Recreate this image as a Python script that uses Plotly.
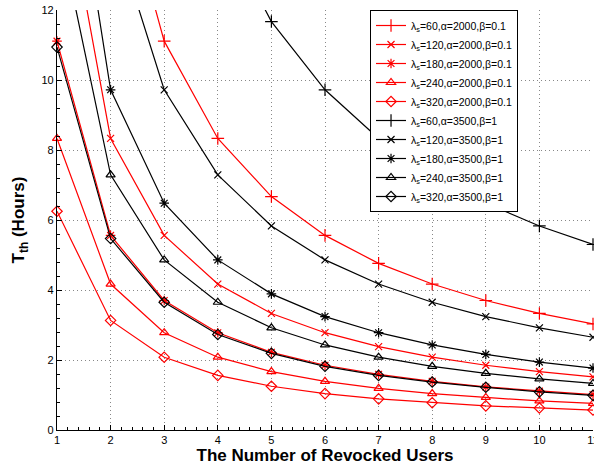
import plotly.graph_objects as go

x_users = [1, 2, 3, 4, 5, 6, 7, 8, 9, 10, 11]

red_60 = [33.33, 16.67, 11.11, 8.33, 6.67, 5.56, 4.76, 4.17, 3.70, 3.33, 3.03]
red_120 = [16.67, 8.33, 5.56, 4.17, 3.33, 2.78, 2.38, 2.08, 1.85, 1.67, 1.52]
red_180 = [11.11, 5.56, 3.70, 2.78, 2.22, 1.85, 1.59, 1.39, 1.23, 1.11, 1.01]
red_240 = [8.33, 4.17, 2.78, 2.08, 1.67, 1.39, 1.19, 1.04, 0.93, 0.83, 0.76]
red_320 = [6.25, 3.13, 2.08, 1.56, 1.25, 1.04, 0.89, 0.78, 0.69, 0.63, 0.57]
black_60 = [58.33, 29.17, 19.44, 14.58, 11.67, 9.72, 8.33, 7.29, 6.48, 5.83, 5.30]
black_120 = [29.17, 14.58, 9.72, 7.29, 5.83, 4.86, 4.17, 3.65, 3.24, 2.92, 2.65]
black_180 = [19.44, 9.72, 6.48, 4.86, 3.89, 3.24, 2.78, 2.43, 2.16, 1.94, 1.77]
black_240 = [14.58, 7.29, 4.86, 3.65, 2.92, 2.43, 2.08, 1.82, 1.62, 1.46, 1.33]
black_320 = [10.94, 5.47, 3.65, 2.73, 2.19, 1.82, 1.56, 1.37, 1.22, 1.09, 0.99]

series_names = [
    "λ<sub>s</sub>=60,α=2000,β=0.1",
    "λ<sub>s</sub>=120,α=2000,β=0.1",
    "λ<sub>s</sub>=180,α=2000,β=0.1",
    "λ<sub>s</sub>=240,α=2000,β=0.1",
    "λ<sub>s</sub>=320,α=2000,β=0.1",
    "λ<sub>s</sub>=60,α=3500,β=1",
    "λ<sub>s</sub>=120,α=3500,β=1",
    "λ<sub>s</sub>=180,α=3500,β=1",
    "λ<sub>s</sub>=240,α=3500,β=1",
    "λ<sub>s</sub>=320,α=3500,β=1",
]
series_values = [red_60, red_120, red_180, red_240, red_320,
                 black_60, black_120, black_180, black_240, black_320]
colors = ["#ff0000"] * 5 + ["#000000"] * 5
symbols = ["cross-thin", "x-thin", "asterisk", "triangle-up-open", "diamond-open"] * 2
sizes = [9, 7, 8, 8, 8] * 2

fig = go.Figure()
for name, vals, col, sym, sz in zip(series_names, series_values, colors, symbols, sizes):
    fig.add_trace(go.Scatter(
        x=x_users, y=vals, name=name, mode="lines+markers",
        line=dict(color=col, width=1.2),
        marker=dict(symbol=sym, size=sz, color=col, line=dict(color=col, width=1.2)),
        cliponaxis=False,
    ))

axis_common = dict(
    showline=True, linecolor="black", linewidth=1.2, mirror=False,
    ticks="inside", ticklen=5, tickcolor="black",
    showgrid=True, gridcolor="#888888", griddash="1px,3px", gridwidth=1,
    zeroline=False, ticklabeloverflow="allow", automargin=False,
    tickfont=dict(family="Liberation Sans, Arial", size=11, color="black"),
)

fig.update_layout(
    width=594, height=468,
    margin=dict(l=57, r=1, t=10, b=38),
    paper_bgcolor="white", plot_bgcolor="white",
    showlegend=True,
    legend=dict(
        x=0.584, y=1.0, xanchor="left", yanchor="top",
        bgcolor="white", bordercolor="black", borderwidth=1,
        font=dict(family="Liberation Sans, Arial", size=10.5, color="black"),
        tracegroupgap=0, itemwidth=30,
    ),
    xaxis=dict(
        range=[1, 11], dtick=1, tick0=1,
        minor=dict(ticks="inside", ticklen=3, dtick=0.2, tickcolor="black", showgrid=False),
        title=dict(text="<b>The Number of Revocked Users</b>",
                   font=dict(family="Liberation Sans, Arial", size=17, color="black"),
                   standoff=2),
        **axis_common,
    ),
    yaxis=dict(
        range=[0, 12], dtick=2, tick0=0,
        minor=dict(ticks="inside", ticklen=3, dtick=0.4, tickcolor="black", showgrid=False),
        title=dict(text="<b>T<sub>th</sub> (Hours)</b>",
                   font=dict(family="Liberation Sans, Arial", size=17, color="black"),
                   standoff=12),
        **axis_common,
    ),
)

fig.write_html("out.html", config={"displayModeBar": False},
               post_script="document.body.style.margin='0';")
